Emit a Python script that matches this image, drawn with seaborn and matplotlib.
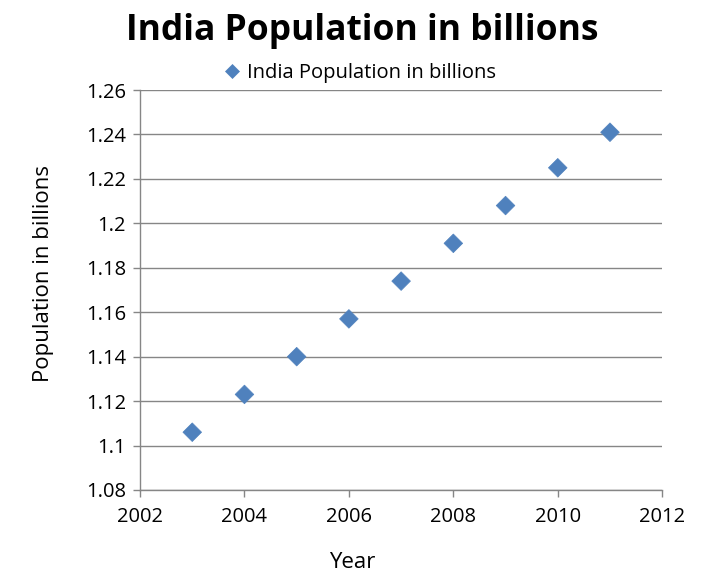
import pandas as pd
import matplotlib
matplotlib.use("Agg")
import matplotlib.pyplot as plt
import seaborn as sns
from matplotlib.ticker import FuncFormatter

years = [2003, 2004, 2005, 2006, 2007, 2008, 2009, 2010, 2011]
population = [1.106, 1.123, 1.140, 1.157, 1.174, 1.191, 1.208, 1.225, 1.241]
x_ticks = [2002, 2004, 2006, 2008, 2010, 2012]
y_ticks = [1.08, 1.10, 1.12, 1.14, 1.16, 1.18, 1.20, 1.22, 1.24, 1.26]
series_name = "India Population in billions"

df = pd.DataFrame({"Year": years, "Population": population, "Series": series_name})

sns.set_theme(style="white")
plt.rcParams['font.family'] = ['Open Sans', 'DejaVu Sans']
plt.rcParams['text.color'] = 'black'

fig = plt.figure(figsize=(7.09, 5.77), dpi=100)
ax = fig.add_axes([0.1975, 0.1508, 0.7365, 0.6932])

sns.scatterplot(data=df, x="Year", y="Population", hue="Series", palette=["#4F81BD"],
                marker="D", s=90, edgecolor="#4F81BD", linewidth=0.5, ax=ax, zorder=3)

ax.set_xlim(2002, 2012)
ax.set_ylim(1.08, 1.26)
ax.set_xticks(x_ticks)
ax.set_yticks(y_ticks)
ax.yaxis.set_major_formatter(FuncFormatter(lambda v, p: f"{round(v, 2):g}"))
ax.grid(axis="y", color="#868686", linewidth=1)
ax.set_axisbelow(True)
for side in ["top", "right"]:
    ax.spines[side].set_visible(False)
for side in ["left", "bottom"]:
    ax.spines[side].set_color("#868686")
    ax.spines[side].set_linewidth(1)
ax.tick_params(axis="both", which="major", direction="out", length=5, width=1,
               color="#868686", labelsize=14.5, labelcolor="black", pad=5)
ax.tick_params(axis="x", pad=7)
ax.xaxis.set_ticks_position("bottom")
ax.yaxis.set_ticks_position("left")

ax.set_xlabel("")
ax.set_ylabel("")
fig.text(352 / 709, 1 - 563 / 577, "Year", ha="center", va="center", fontsize=16)
fig.text(44 / 709, 1 - 273 / 577, "Population in billions", ha="center", va="center",
         rotation=90, fontsize=16)
fig.text(362 / 709, 1 - 31 / 577, "India Population in billions", ha="center", va="center",
         fontsize=25.5, fontweight="bold")

ax.legend(loc="center", bbox_to_anchor=(360 / 709, 1 - 73 / 577), bbox_transform=fig.transFigure,
          frameon=False, fontsize=14.5, handlelength=0.8, handletextpad=0.3, markerscale=0.75)

fig.savefig("out.png", dpi=100)
plt.close(fig)
